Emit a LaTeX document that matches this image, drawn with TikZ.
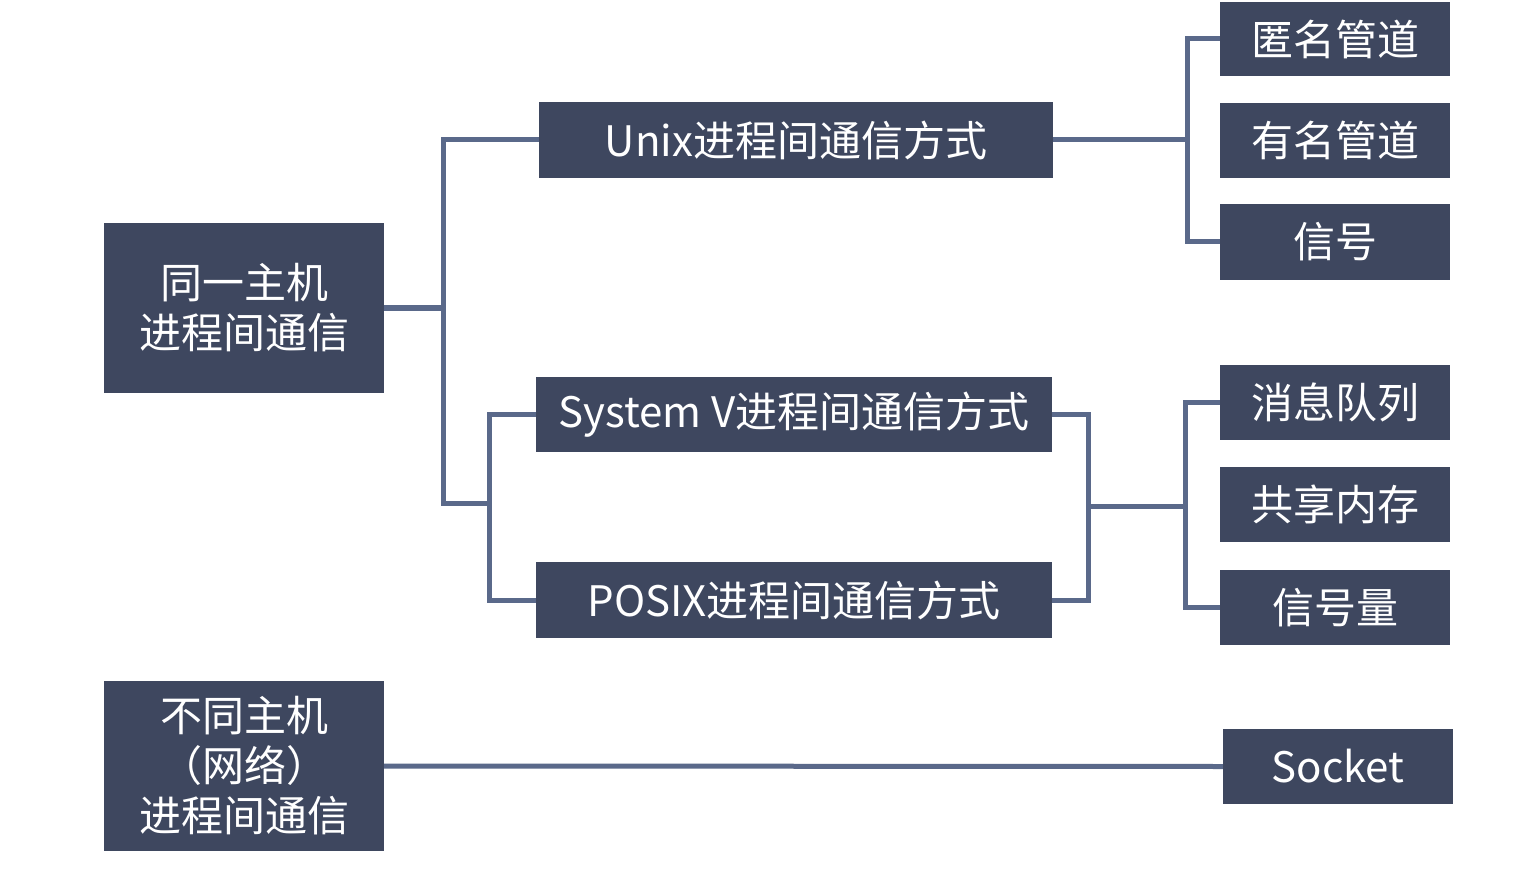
\documentclass[tikz,border=0pt]{standalone}
\usepackage{fontspec}
\newfontfamily\cjk{Noto Sans CJK SC}
\definecolor{boxfill}{RGB}{62,71,95}
\definecolor{linec}{RGB}{90,105,138}
\tikzset{
  box/.style={fill=boxfill, draw=none, text=white, align=center, inner sep=0pt,
    font=\cjk\fontsize{42}{50}\selectfont},
  conn/.style={draw=linec, line width=5pt, line join=miter}
}
\begin{document}
\begin{tikzpicture}[x=1pt,y=-1pt]
\useasboundingbox[fill=white] (0,0) rectangle (1523,885);
% nodes
\node[box, minimum width=280pt, minimum height=170pt] (h1) at (244,308) {同一主机\\进程间通信};
\node[box, minimum width=280pt, minimum height=170pt] (h2) at (244,766) {不同主机\\（网络）\\进程间通信};
\node[box, minimum width=514pt, minimum height=76pt] (unix) at (796,140) {Unix进程间通信方式};
\node[box, minimum width=516pt, minimum height=75pt] (sysv) at (794,414.5) {System V进程间通信方式};
\node[box, minimum width=516pt, minimum height=76pt] (posix) at (794,600) {POSIX进程间通信方式};
\node[box, minimum width=230pt, minimum height=74pt] (r1) at (1335,39) {匿名管道};
\node[box, minimum width=230pt, minimum height=75pt] (r2) at (1335,140.5) {有名管道};
\node[box, minimum width=230pt, minimum height=76pt] (r3) at (1335,242) {信号};
\node[box, minimum width=230pt, minimum height=75pt] (r4) at (1335,402.5) {消息队列};
\node[box, minimum width=230pt, minimum height=75pt] (r5) at (1335,504.5) {共享内存};
\node[box, minimum width=230pt, minimum height=75pt] (r6) at (1335,607.5) {信号量};
\node[box, minimum width=230pt, minimum height=75pt] (sock) at (1338,766.5) {Socket};
% junctions
\coordinate (j1) at (443,308);
\coordinate (j2) at (489,503);
\coordinate (j3) at (1088,506);
\coordinate (j4) at (1187,140);
\coordinate (j5) at (1185,506);
% connectors
\draw[conn] (h1.east) -- (j1);
\draw[conn] (unix.west) -| (j1 |- j2) -- (j2);
\draw[conn] (sysv.west) -| (j2) |- (posix.west);
\draw[conn] (sysv.east) -| (j3) |- (posix.east);
\draw[conn] (j3) -- (j5);
\draw[conn] (r4.west) -| (j5) |- (r6.west);
\draw[conn] (unix.east) -- (j4);
\draw[conn] (r1.west) -| (j4) |- (r3.west);
\draw[conn] (h2.east) -- (sock.west);
\end{tikzpicture}
\end{document}
